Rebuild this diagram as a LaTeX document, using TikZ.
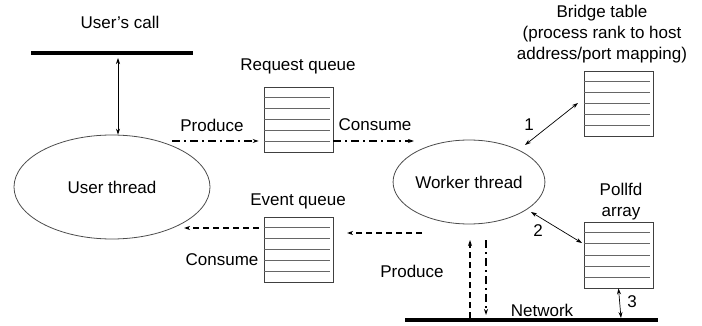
\documentclass[tikz,border=0pt]{standalone}
\usepackage{fontspec}
\setmainfont{Liberation Sans}
\usetikzlibrary{arrows.meta,calc,shapes.geometric}
\begin{document}
\begin{tikzpicture}[x=1pt,y=-1pt, font=\fontsize{17}{21}\selectfont,
  lbl/.style={inner sep=0pt, align=center},
  qbox/.style={draw=black!75, line width=0.8pt, minimum width=69pt, minimum height=65pt, inner sep=0pt},
  thr/.style={ellipse, draw=black!70, line width=0.8pt, inner sep=0pt},
  bar/.style={line width=4.5pt},
  tip/.style={-{Stealth[length=6pt,width=4pt]}},
  dtip/.style={{Stealth[length=6pt,width=4pt]}-{Stealth[length=6pt,width=4pt]}, line width=0.7pt},
  dashdot/.style={line width=1.6pt, dash pattern=on 8pt off 4pt on 2pt off 4pt},
  dsh/.style={line width=1.2pt, dash pattern=on 6pt off 4pt},
  rowline/.style={draw=black!60, line width=0.8pt},
]
\useasboundingbox (0,0) rectangle (702,326);

% bars
\coordinate (ucL) at (31,53);
\coordinate (ucR) at (193,53);
\draw[bar] (ucL) -- (ucR);
\coordinate (nwL) at (405,320);
\coordinate (nwR) at (658,320);
\draw[bar] (nwL) -- (nwR);

% threads
\node[thr, minimum width=196pt, minimum height=104pt] (ut) at (112,187) {User thread};
\node[thr, minimum width=142pt, minimum height=84pt] (wt) at (469,182) {Worker thread};

% queues / tables
\node[qbox] (rq) at (298.5,119.5) {};
\node[qbox] (eq) at (298.5,249.5) {};
\node[qbox] (bt) at (618.5,103.5) {};
\node[qbox, minimum height=66pt] (pa) at (618.5,255) {};
\foreach \b in {rq,eq,bt,pa}
  \foreach \k in {1,...,5}
    \draw[rowline] ($(\b.north west)!\k/6!(\b.south west)$) -- ++(66,0);

% labels
\node[lbl] (lUC) at (120,22) {User's call};
\node[lbl] (lRQ) at (298,66) {Request queue};
\node[lbl] (lEQ) at (298,201) {Event queue};
\node[lbl] (lBT) at (602,34) {Bridge table\\(process rank to host\\address/port mapping)};
\node[lbl] (lPA) at (621,202) {Pollfd\\array};
\node[lbl] (lP1) at (212,125) {Produce};
\node[lbl] (lC1) at (375,125) {Consume};
\node[lbl] (lC2) at (222,260) {Consume};
\node[lbl] (lP2) at (412,271) {Produce};
\node[lbl] (lNW) at (542,310) {Network};
\node[lbl] (n1) at (529,125) {1};
\node[lbl] (n2) at (538,231) {2};
\node[lbl] (n3) at (632,302) {3};

% connectors
\coordinate (ucA) at (118,58);
\draw[dtip] (ucA) -- (ut.north -| ucA);

\coordinate (pS) at (172,141);
\draw[dashdot, tip] (pS) -- ($(rq.west |- pS)+(-5,0)$);
\coordinate (cE) at (414,141);
\draw[dashdot, tip] (rq.east |- cE) -- (cE);

\coordinate (a1s) at (525,145);
\coordinate (a1e) at (578,103);
\draw[dtip] (a1s) -- (a1e);
\coordinate (a2s) at (531,212);
\coordinate (a2e) at (582,243);
\draw[dtip] (a2s) -- (a2e);
\coordinate (a3e) at (621,318);
\draw[dtip] (pa.south) -- (a3e);

\coordinate (eA) at (184,228);
\draw[dsh, tip] ($(eq.west |- eA)+(-5,0)$) -- (eA);
\coordinate (eBs) at (422,233);
\coordinate (eBe) at (347,233);
\draw[dsh, tip] (eBs) -- (eBe);

\coordinate (upS) at (470,318);
\coordinate (upE) at (470,240);
\draw[dsh, tip] (upS) -- (upE);
\coordinate (dnS) at (486,240);
\coordinate (dnE) at (486,315);
\draw[dashdot, tip] (dnS) -- (dnE);
\end{tikzpicture}
\end{document}
